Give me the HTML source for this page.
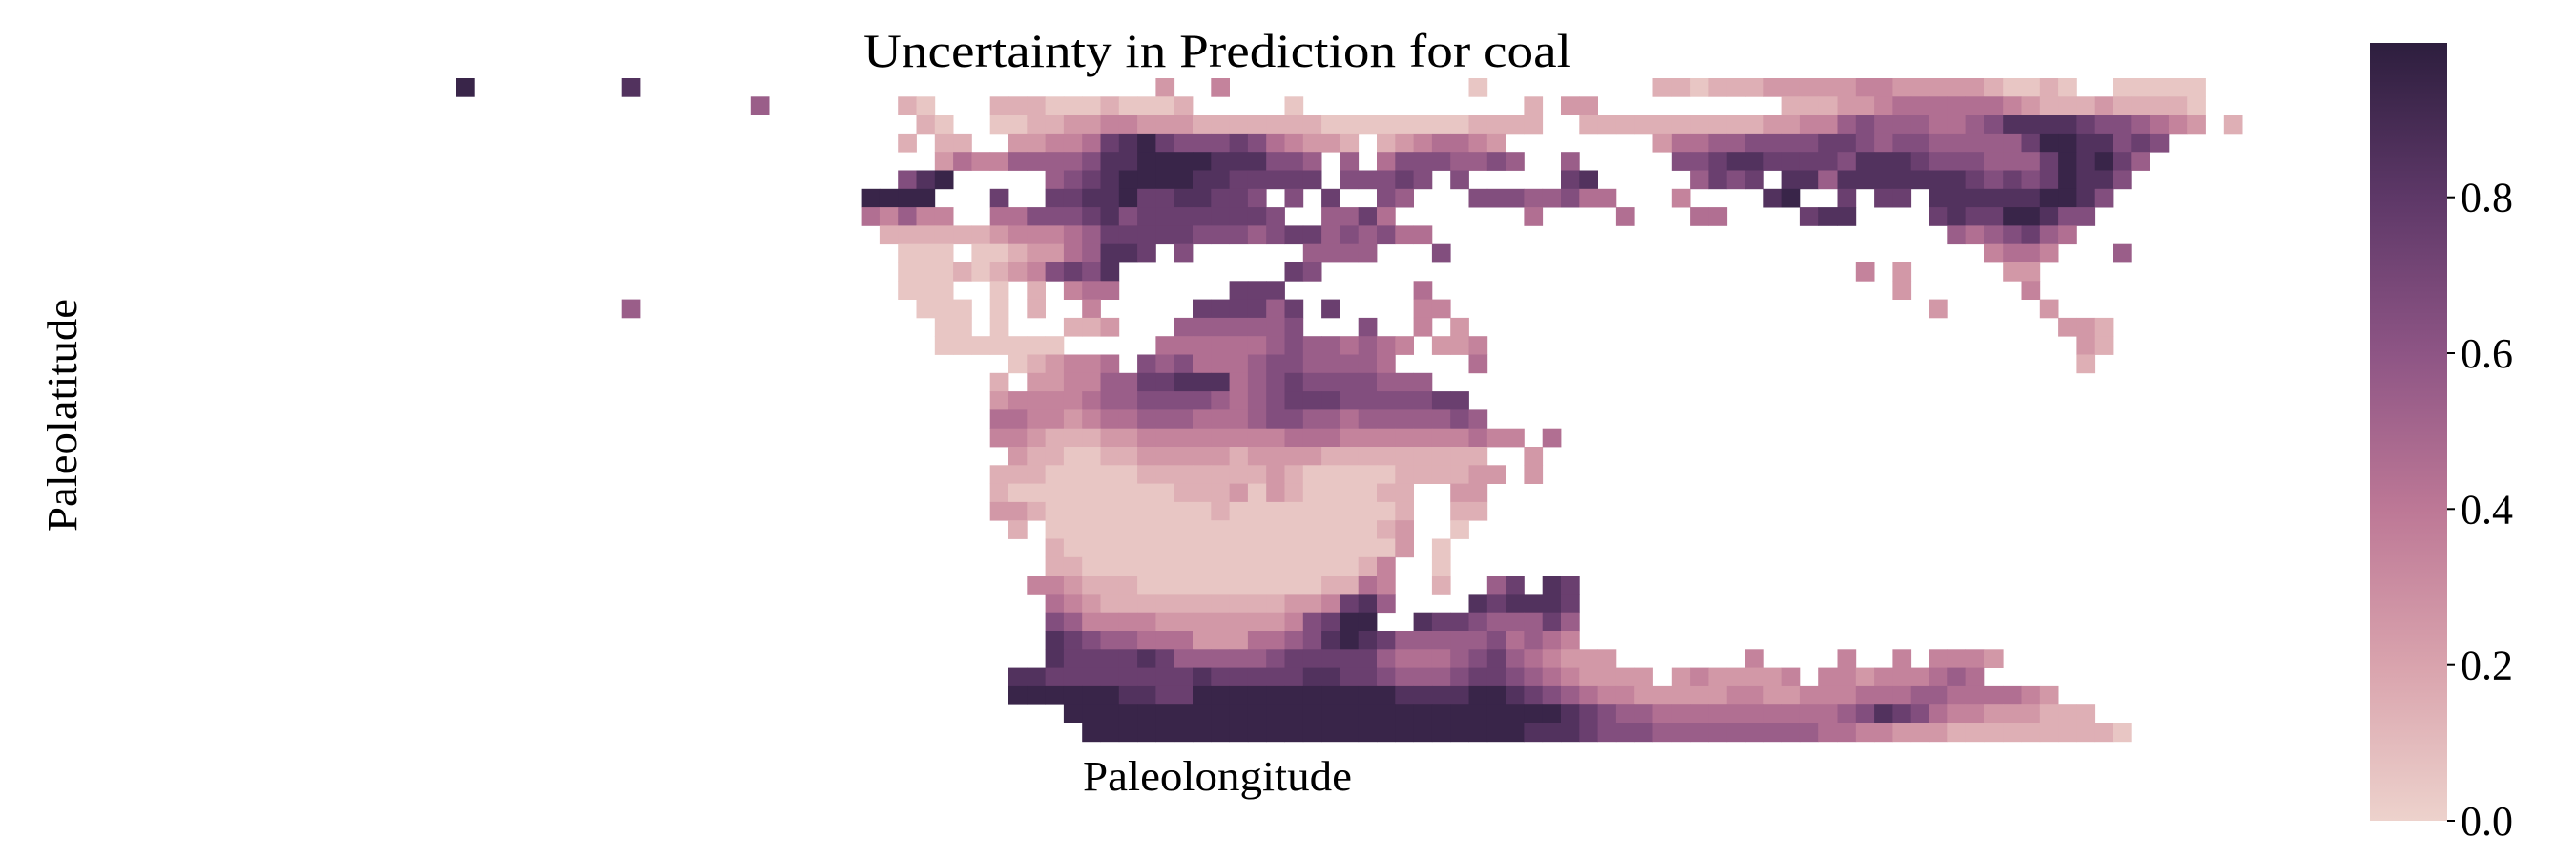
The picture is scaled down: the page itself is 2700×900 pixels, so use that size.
<!DOCTYPE html>
<html><head><meta charset="utf-8"><title>Uncertainty in Prediction for coal</title>
<style>html,body{margin:0;padding:0;background:#fff}svg{display:block}text{font-family:"Liberation Serif",serif;fill:#000}</style>
</head><body>
<svg id="chart" width="2700" height="900" viewBox="0 0 2700 900" xmlns="http://www.w3.org/2000/svg">
<defs>
<linearGradient id="cbgrad" x1="0" y1="1" x2="0" y2="0">
<stop offset="0" stop-color="#EDD2CC"/><stop offset="0.2" stop-color="#D9A3AD"/><stop offset="0.4" stop-color="#BD7896"/><stop offset="0.6" stop-color="#8E5585"/><stop offset="0.8" stop-color="#5E3868"/><stop offset="1" stop-color="#2D1E3E"/>
</linearGradient>
</defs>
<text x="905" y="70" font-size="50" textLength="742" lengthAdjust="spacingAndGlyphs">Uncertainty in Prediction for coal</text>
<g id="cells"></g>
<text x="1135" y="828" font-size="44" textLength="282" lengthAdjust="spacingAndGlyphs">Paleolongitude</text>
<text transform="translate(80,557) rotate(-90)" x="0" y="0" font-size="44" textLength="244" lengthAdjust="spacingAndGlyphs">Paleolatitude</text>
<rect x="2484" y="45" width="81" height="815" fill="url(#cbgrad)"/>
<g id="cbticks"></g>
</svg>
<script>
// grid rows: '.' = no data, digit d = uncertainty level (value ≈ (d+0.5)/10)
const rows = [
"9........8............"+"................2..3......"+".......0.........110111222"+"22332222210010..00000.....",
"................5....."+"..10...11100010001.....0.."+"..........1.22..........11"+"122344444432111211110.....",
"......................"+"...10..0011223322211111110"+"00000001111..1111111111223"+"356555445688887665432.1...",
"......................"+"..1.11..223347897666764322"+"1.1234432........244556666"+"7765665555579988676.......",
"......................"+"....243355556889999888665."+"5.46665565..5.....66788777"+"768887666555798975........",
"......................"+"..689.....567899998877777."+"66676.6.....78.....5767.88"+"58888888767679886.........",
"......................"+"9999...7..778897788776.6.7"+"..65...66655644...3....89."+".7.77.8888889986..........",
"......................"+"43533..4466678677777776..5"+"574.......4....4...44....7"+"88....787799866...........",
"......................"+".1111112333457777766656775"+"65644....................."+".......5456754............",
"......................"+"..000.0012245887.6......55"+"55...6...................."+".........3443...5.........",
"......................"+"..000101236768.........76."+".........................."+"..3.2.....22..............",
"......................"+"..000..0.1.344......777..."+"....4....................."+"....2......3..............",
".........5............"+"...000.0.1..3.....777757.7"+"....33...................."+"......2.....2.............",
"......................"+"....00.0...112...5555556.."+".6..3.2..................."+".............221..........",
"......................"+"....0000000.....4444445655"+"4543.223.................."+"..............21..........",
"......................"+"........012334.65644456655"+"554....4.................."+"..............1...........",
"......................"+".......1.22335577888456766"+"66555....................."+"..........................",
"......................"+".......2333345566665456777"+"6666677..................."+"..........................",
"......................"+".......4433234455544456655"+"45555565.................."+"..........................",
"......................"+".......3321112233333333444"+"3333333433.4.............."+"..........................",
"......................"+"........211001122222122221"+"11111111..2..............."+"..........................",
"......................"+".......1110000011111112100"+"000111122.2..............."+"..........................",
"......................"+".......1000000000111202100"+"0011..22.................."+"..........................",
"......................"+".......2210000000001000000"+"0001..11.................."+"..........................",
"......................"+"........1.0000000000000000"+"0012..0..................."+"..........................",
"......................"+"..........1000000000000000"+"0002.0...................."+"..........................",
"......................"+"..........1100000000000000"+"013..0...................."+"..........................",
"......................"+".........33211100000000001"+"143..1..57.87............."+"..........................",
"......................"+"..........4321111111111223"+"785....878887............."+"..........................",
"......................"+"..........6533332222222367"+"99..877655575............."+"..........................",
"......................"+"..........8765544422244568"+"9875555564543............."+"..........................",
"......................"+"..........8777787555556777"+"775444567543222.......3..."+".3..3.3332................",
"......................"+"........887777777787777788"+"77655567765432222.2322223."+"332333454.................",
"......................"+"........999999887799999999"+"99988889987654332222233223"+"3344455444432.............",
"......................"+"...........999999999999999"+"99999999999987655444444444"+"456876433222111...........",
"......................"+"............99999999999999"+"99999999998887666555555555"+"44332221111111110........."
];
const cbTickValues = [0.0, 0.2, 0.4, 0.6, 0.8];
const cbTickLabels = ["0.0", "0.2", "0.4", "0.6", "0.8"];

const SVGNS = "http://www.w3.org/2000/svg";
const X0 = 478, Y0 = 82, CELL = 19.3;
const CB_BOTTOM = 860, CB_TOP = 45, VMIN = 0, VMAX = 0.998;
function xScale(c){ return X0 + c*CELL; }
function yScale(r){ return Y0 + r*CELL; }
function cbY(v){ return CB_BOTTOM - (v - VMIN)/(VMAX - VMIN)*(CB_BOTTOM - CB_TOP); }
const stops = [[0,[237,210,204]],[0.2,[217,163,173]],[0.4,[189,120,150]],[0.6,[142,85,133]],[0.8,[94,56,104]],[1,[45,30,62]]];
function cmap(v){
  v = Math.max(0, Math.min(1, v));
  for (let i=0;i<stops.length-1;i++){
    const a=stops[i], b=stops[i+1];
    if (v<=b[0]){ const t=(v-a[0])/(b[0]-a[0]);
      const c=a[1].map((x,k)=>Math.round(x+(b[1][k]-x)*t));
      return "rgb("+c.join(",")+")"; }
  }
  return "rgb(45,30,62)";
}
const g = document.getElementById("cells");
rows.forEach((row, r) => {
  for (let c=0;c<row.length;c++){
    const ch=row[c];
    if (ch===".") continue;
    const v=(parseInt(ch,10)+0.5)/10;
    const rect=document.createElementNS(SVGNS,"rect");
    rect.setAttribute("x", xScale(c).toFixed(2));
    rect.setAttribute("y", yScale(r).toFixed(2));
    rect.setAttribute("width", (CELL+0.4).toFixed(2));
    rect.setAttribute("height", (CELL+0.4).toFixed(2));
    rect.setAttribute("fill", cmap(v));
    
    
    g.appendChild(rect);
  }
});
const tg = document.getElementById("cbticks");
cbTickValues.forEach((v,i) => {
  const y = cbY(v);
  const ln=document.createElementNS(SVGNS,"line");
  ln.setAttribute("x1","2565"); ln.setAttribute("x2","2573");
  ln.setAttribute("y1",y.toFixed(1)); ln.setAttribute("y2",y.toFixed(1));
  ln.setAttribute("stroke","#000"); ln.setAttribute("stroke-width","2");
  
  
  tg.appendChild(ln);
  const t=document.createElementNS(SVGNS,"text");
  t.setAttribute("x","2579"); t.setAttribute("y",(y+15).toFixed(1));
  t.setAttribute("font-size","44");
  t.textContent=cbTickLabels[i];
  
  
  tg.appendChild(t);
});
</script>
</body></html>
